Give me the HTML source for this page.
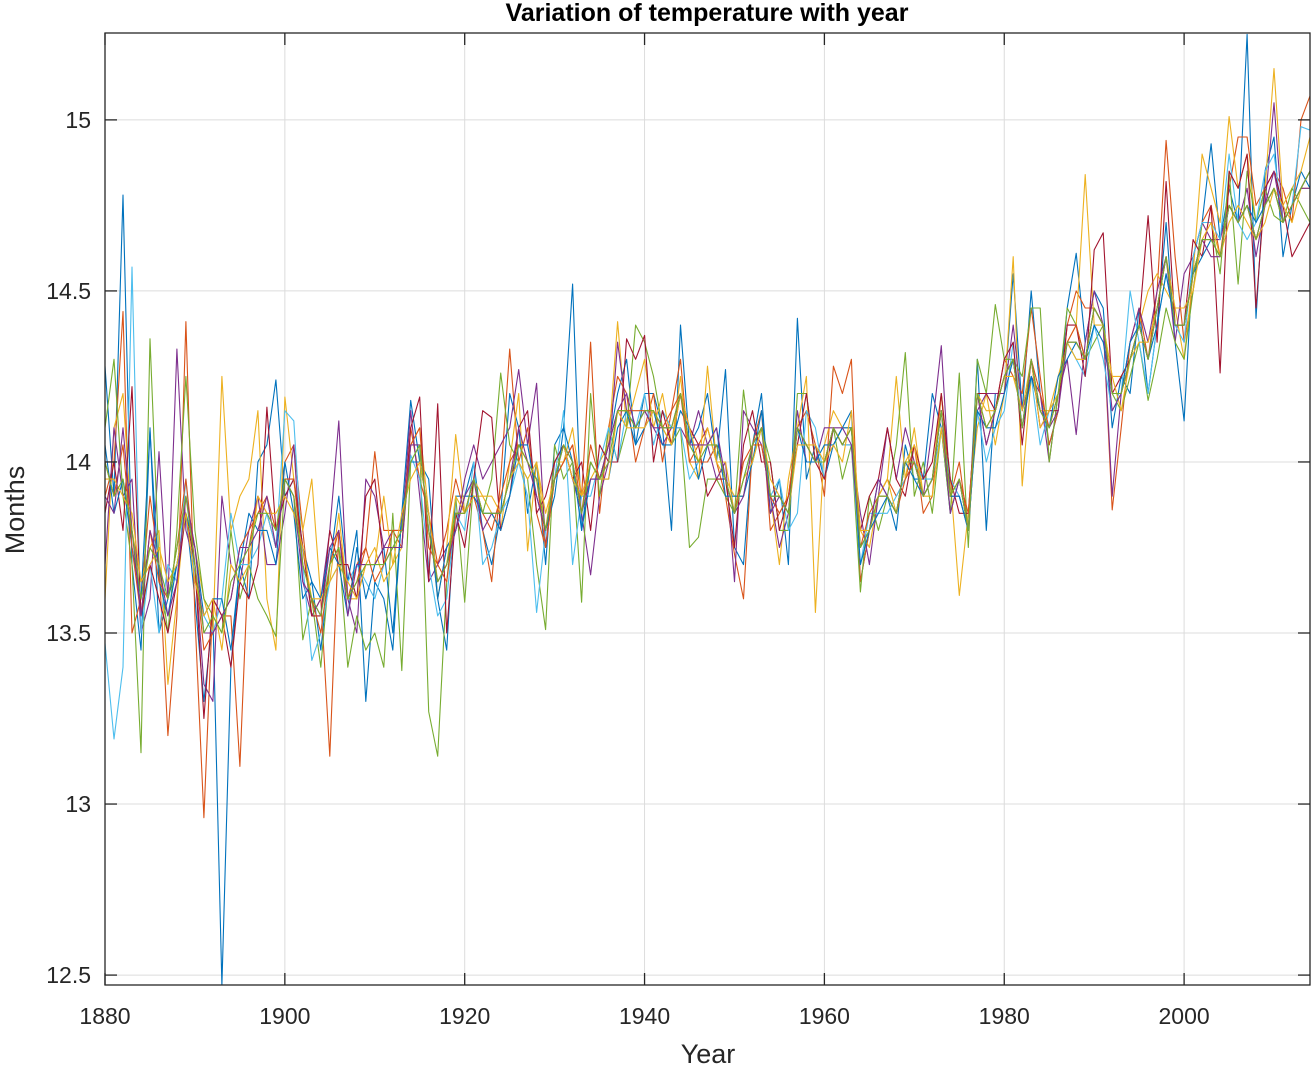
<!DOCTYPE html>
<html><head><meta charset="utf-8"><style>
html,body{margin:0;padding:0;background:#fff;}
svg{display:block;font-family:"Liberation Sans",Arial,sans-serif;}
</style></head><body>
<svg id="chart" width="1313" height="1066" viewBox="0 0 1313 1066" xmlns="http://www.w3.org/2000/svg">
<defs><clipPath id="clip"><rect x="105" y="33" width="1205" height="952"/></clipPath></defs>
<rect width="1313" height="1066" fill="#fff"/>
<g id="grid"></g>
<g id="series" clip-path="url(#clip)"></g>
<g id="axes"></g>
<text x="707" y="21" text-anchor="middle" font-size="25" font-weight="bold" fill="#000">Variation of temperature with year</text>
<text x="708" y="1063" text-anchor="middle" font-size="27" fill="#262626">Year</text>
<text transform="translate(24,510) rotate(-90)" text-anchor="middle" font-size="27" fill="#262626">Months</text>
</svg>
<script>
const startYear = 1880;
const xTicks = [1880,1900,1920,1940,1960,1980,2000];
const yTicks = [12.5,13,13.5,14,14.5,15];
const yTickLabels = ["12.5","13","13.5","14","14.5","15"];
const seriesColors = ["#0072BD","#D95319","#EDB120","#7E2F8E","#77AC30","#4DBEEE","#A2142F","#0072BD","#D95319","#EDB120","#7E2F8E","#77AC30"];
const m01=[14.28,13.9,14.78,13.7,13.45,14.1,13.5,13.6,13.7,13.85,13.6,13.3,13.55,12.47,13.4,13.7,13.6,14.0,14.05,14.24,13.9,13.95,13.75,13.65,13.45,13.7,13.9,13.65,13.8,13.3,13.65,13.6,13.45,13.85,14.18,14.0,13.95,13.6,13.45,13.9,13.9,14.0,13.8,13.7,13.85,14.2,14.1,13.85,14.0,13.7,14.05,14.1,14.52,13.8,14.0,13.95,14.05,14.2,14.3,14.05,14.2,14.2,14.1,13.8,14.4,14.05,14.1,14.2,14.0,14.27,13.75,13.7,14.05,14.2,13.85,13.95,13.7,14.42,13.95,14.05,13.95,14.05,14.1,14.15,13.65,13.8,13.95,13.9,13.8,14.05,13.95,13.95,14.2,14.1,13.85,13.95,13.8,14.3,13.8,14.2,14.2,14.55,14.15,14.5,14.2,14.05,14.15,14.45,14.61,14.35,14.5,14.45,14.1,14.25,14.2,14.45,14.2,14.4,14.7,14.35,14.12,14.6,14.7,14.93,14.65,14.8,14.7,15.25,14.42,14.85,14.95,14.6,14.75,14.85,14.8];
const m02=[13.9,14.0,14.44,13.5,13.6,13.9,13.7,13.2,13.55,14.41,13.55,12.96,13.6,13.55,13.55,13.11,13.75,13.9,13.85,13.75,14.0,14.05,13.8,13.55,13.6,13.14,13.8,13.6,13.7,13.75,14.03,13.8,13.8,13.75,14.1,13.95,13.85,13.7,13.8,13.95,13.85,13.9,13.8,13.65,13.95,14.33,14.0,14.1,13.85,13.75,13.95,14.0,14.05,13.9,14.35,13.85,14.1,14.25,14.2,14.0,14.1,14.2,14.0,14.15,14.3,14.0,14.05,14.1,14.0,13.9,13.73,13.6,14.05,14.15,13.8,13.85,13.9,14.1,14.15,14.05,13.9,14.28,14.2,14.3,13.65,13.8,13.9,13.95,13.9,13.95,14.05,13.85,13.9,14.2,13.9,14.0,13.8,14.2,14.05,14.15,14.3,14.25,14.2,14.45,14.25,14.05,14.15,14.4,14.5,14.45,14.45,14.4,13.86,14.1,14.35,14.45,14.3,14.5,14.94,14.6,14.35,14.5,14.7,14.75,14.6,14.8,14.95,14.95,14.75,14.8,14.85,14.8,14.7,15.0,15.07];
const m03=[13.6,14.1,14.2,13.8,13.65,13.75,13.8,13.35,13.6,13.9,13.75,13.6,13.5,14.25,13.8,13.9,13.95,14.15,13.6,13.45,14.19,13.95,13.8,13.95,13.6,13.65,13.85,13.6,13.6,13.7,13.7,13.9,13.7,13.75,14.05,14.1,13.85,13.6,13.75,14.08,13.85,13.95,13.9,13.85,13.8,14.0,14.2,13.74,14.0,13.8,14.0,14.0,14.1,13.9,13.95,14.0,14.05,14.41,14.1,14.2,14.3,14.1,14.2,14.05,14.25,14.0,13.95,14.28,14.0,13.95,13.9,13.9,14.05,14.1,13.9,13.7,13.95,14.1,14.25,13.56,14.05,14.15,14.1,14.1,13.8,13.75,13.9,13.95,14.25,13.95,14.1,13.9,13.95,14.2,13.95,13.61,13.85,14.1,14.2,14.05,14.2,14.6,13.93,14.25,14.15,14.15,14.25,14.35,14.4,14.84,14.4,14.4,14.25,14.25,14.3,14.4,14.5,14.55,14.5,14.45,14.3,14.55,14.9,14.8,14.7,15.01,14.8,14.9,14.7,14.8,15.15,14.75,14.8,14.85,14.95];
const m04=[13.7,14.1,13.9,13.95,13.5,13.6,14.03,13.6,14.33,13.8,13.7,13.35,13.3,13.9,13.7,13.65,13.8,13.9,13.7,13.7,13.85,14.05,13.65,13.55,13.6,13.8,14.12,13.6,13.5,13.95,13.9,13.75,13.8,13.8,14.15,13.9,13.65,13.7,13.75,13.8,13.95,14.05,13.95,14.0,14.05,14.1,14.27,14.05,14.23,13.75,14.0,14.05,13.95,13.85,13.67,13.9,14.0,14.35,14.15,14.1,14.15,14.1,14.05,14.1,14.1,14.05,14.15,14.05,13.95,14.0,13.65,14.15,14.1,14.05,13.9,13.75,13.85,14.15,14.0,14.0,14.1,14.1,14.05,14.05,13.85,13.7,13.9,14.1,13.95,14.1,14.0,13.9,14.1,14.34,13.9,13.9,13.8,14.15,14.2,14.2,14.2,14.4,14.15,14.25,14.2,14.0,14.2,14.3,14.08,14.35,14.5,14.4,13.9,14.2,14.35,14.45,14.35,14.5,14.6,14.35,14.55,14.6,14.7,14.65,14.65,14.75,14.7,14.8,14.6,14.75,15.05,14.7,14.75,14.8,14.85];
const m05=[14.1,14.3,13.9,13.7,13.15,14.36,13.7,13.5,13.8,14.25,13.8,13.6,13.55,13.5,13.8,13.6,13.7,13.6,13.55,13.49,13.95,13.9,13.48,13.6,13.4,13.7,13.75,13.4,13.55,13.45,13.5,13.4,13.85,13.39,14.0,14.05,13.27,13.14,13.65,13.9,13.59,13.95,13.85,13.95,14.26,14.05,14.0,13.95,13.7,13.51,14.05,13.95,14.0,13.59,14.2,13.9,14.1,14.0,14.1,14.4,14.35,14.25,14.1,14.05,14.1,13.75,13.78,13.95,13.95,13.9,13.85,14.21,14.0,14.1,14.0,13.8,13.8,14.2,14.2,14.0,14.0,14.1,13.95,14.05,13.62,13.9,13.8,13.9,14.05,14.32,13.9,14.0,13.85,14.1,13.85,14.26,13.75,14.3,14.2,14.46,14.3,14.3,14.25,14.45,14.45,14.0,14.2,14.45,14.4,14.3,14.35,14.4,14.2,14.15,14.25,14.35,14.18,14.3,14.45,14.35,14.3,14.5,14.7,14.7,14.55,14.85,14.52,14.85,14.7,14.8,14.72,14.7,14.8,14.75,14.7];
const m06=[13.47,13.19,13.4,14.57,13.5,13.7,13.5,13.7,13.65,13.95,13.65,13.55,13.5,13.6,13.85,13.7,13.7,13.75,13.85,13.75,14.15,14.12,13.7,13.42,13.5,13.65,13.7,13.65,13.7,13.65,13.6,13.7,13.75,13.8,14.02,13.95,13.7,13.55,13.6,13.85,13.8,14.0,13.7,13.75,13.85,13.9,14.0,13.9,13.56,13.8,13.95,14.15,13.7,13.9,13.9,14.0,14.1,14.0,14.15,14.1,14.2,14.05,14.15,14.1,14.1,13.95,14.0,14.0,14.05,13.95,13.85,13.95,14.05,14.1,13.9,13.95,13.8,13.85,14.15,14.1,13.95,14.1,14.05,14.05,13.7,13.85,13.85,13.85,13.9,13.95,14.0,13.95,13.95,14.1,13.95,13.9,13.8,14.15,14.0,14.1,14.15,14.35,14.1,14.25,14.05,14.15,14.2,14.35,14.3,14.25,14.4,14.3,14.15,14.2,14.5,14.35,14.2,14.4,14.55,14.4,14.35,14.6,14.7,14.7,14.65,14.9,14.7,14.65,14.7,14.85,14.9,14.7,14.75,14.98,14.97];
const m07=[13.85,14.0,13.8,14.22,13.55,13.7,13.6,13.5,13.65,13.85,13.7,13.25,13.6,13.55,13.4,13.65,13.6,13.7,14.16,13.8,13.9,13.95,13.75,13.55,13.55,13.8,13.7,13.7,13.6,13.9,13.95,13.7,13.75,13.75,14.1,14.19,13.65,14.17,13.5,13.85,13.75,13.95,14.15,14.13,13.8,13.9,14.1,14.15,13.85,13.9,14.0,14.05,13.95,14.0,13.8,14.05,14.0,14.0,14.36,14.3,14.37,14.0,14.15,14.05,14.2,14.1,14.05,13.9,13.95,13.95,13.75,14.05,14.15,14.0,14.0,13.8,13.9,14.05,14.2,14.0,13.95,14.1,14.05,14.1,13.8,13.9,13.95,14.1,13.95,13.9,14.05,13.95,14.0,14.2,13.95,13.85,13.85,14.2,14.2,14.15,14.3,14.35,14.05,14.3,14.1,14.15,14.15,14.4,14.4,14.25,14.62,14.67,14.2,14.25,14.3,14.4,14.72,14.35,14.82,14.4,14.4,14.65,14.6,14.75,14.26,14.85,14.8,14.9,14.45,14.8,14.85,14.75,14.6,14.65,14.7];
const m08=[14.05,13.85,13.95,13.75,13.6,14.09,13.65,13.55,13.7,13.85,13.75,13.55,13.6,13.6,13.45,13.7,13.85,13.8,13.8,13.7,14.0,13.85,13.6,13.65,13.6,13.75,13.7,13.55,13.75,13.6,13.7,13.75,13.5,13.85,14.0,14.0,13.85,13.6,13.75,13.8,13.9,13.9,13.85,13.85,13.8,13.9,14.05,14.05,13.9,13.8,13.9,14.1,14.0,13.8,13.95,13.95,13.95,14.1,14.15,14.05,14.1,14.15,14.05,14.05,14.15,14.1,13.95,14.05,14.1,13.9,13.9,13.9,14.0,14.15,13.9,13.9,13.85,14.1,14.0,14.0,14.05,14.05,14.1,14.1,13.7,13.8,13.85,13.9,13.85,14.0,13.95,13.9,13.95,14.15,13.9,13.9,13.8,14.15,14.1,14.1,14.2,14.3,14.1,14.25,14.15,14.1,14.25,14.3,14.35,14.3,14.4,14.35,14.2,14.2,14.35,14.4,14.3,14.4,14.55,14.4,14.4,14.55,14.6,14.65,14.6,14.75,14.7,14.75,14.7,14.75,14.8,14.7,14.75,14.8,14.85];
const m09=[14.0,13.9,14.05,13.75,13.55,13.8,13.65,13.6,13.75,13.95,13.7,13.45,13.5,13.55,13.6,13.75,13.8,13.85,13.9,13.8,13.95,13.95,13.7,13.6,13.5,13.7,13.8,13.6,13.65,13.75,13.65,13.7,13.8,13.8,14.05,14.1,13.75,13.7,13.65,13.85,13.85,13.95,13.85,13.8,13.9,14.0,14.05,14.0,13.95,13.75,13.95,14.0,14.05,13.85,14.05,13.95,14.05,14.15,14.15,14.15,14.15,14.15,14.1,14.15,14.2,14.0,14.0,14.0,14.05,13.95,13.85,14.0,14.05,14.05,13.9,13.85,13.9,14.1,14.05,14.0,14.0,14.1,14.05,14.1,13.75,13.85,13.9,13.9,13.85,13.95,14.0,13.9,13.95,14.15,13.9,13.95,13.85,14.2,14.1,14.15,14.25,14.3,14.1,14.3,14.2,14.1,14.2,14.35,14.4,14.3,14.45,14.4,14.2,14.2,14.3,14.4,14.3,14.45,14.6,14.4,14.4,14.55,14.65,14.65,14.6,14.75,14.7,14.75,14.65,14.75,14.8,14.7,14.75,14.8,14.85];
const m10=[13.95,13.95,13.9,13.85,13.65,13.7,13.75,13.65,13.7,13.85,13.65,13.55,13.6,13.45,13.7,13.65,13.7,13.9,13.85,13.85,13.9,13.85,13.75,13.6,13.6,13.65,13.7,13.65,13.6,13.7,13.75,13.65,13.7,13.85,13.95,14.0,13.85,13.65,13.7,13.9,13.85,13.9,13.9,13.9,13.85,13.95,14.0,13.95,14.0,13.85,13.95,14.05,13.95,13.9,14.0,13.95,13.95,14.15,14.1,14.1,14.1,14.15,14.1,14.05,14.2,14.1,14.0,14.1,14.0,14.0,13.85,13.95,14.0,14.1,13.95,13.9,13.85,14.05,14.05,14.05,14.0,14.05,14.0,14.15,13.8,13.8,13.9,13.95,13.85,14.0,14.05,13.9,13.9,14.1,13.9,13.95,13.8,14.2,14.15,14.15,14.25,14.25,14.15,14.3,14.1,14.15,14.2,14.35,14.3,14.3,14.45,14.4,14.25,14.15,14.3,14.35,14.35,14.45,14.6,14.45,14.45,14.5,14.65,14.7,14.6,14.7,14.75,14.7,14.65,14.7,14.8,14.75,14.7,14.8,14.8];
const m11=[13.9,13.85,14.1,13.8,13.55,13.8,13.7,13.55,13.65,13.9,13.75,13.5,13.5,13.55,13.6,13.75,13.75,13.8,13.9,13.75,13.95,13.9,13.65,13.6,13.55,13.75,13.8,13.55,13.7,13.7,13.7,13.75,13.75,13.75,14.05,14.05,13.8,13.65,13.7,13.8,13.9,13.95,13.8,13.85,13.85,13.95,14.1,14.0,13.9,13.8,13.95,14.05,14.0,13.85,13.95,13.95,14.05,14.15,14.2,14.1,14.15,14.1,14.1,14.1,14.2,14.05,14.05,14.05,14.1,13.95,13.85,13.9,14.05,14.1,13.85,13.9,13.85,14.1,14.05,14.0,14.0,14.1,14.1,14.05,13.75,13.8,13.95,13.9,13.85,14.0,14.0,13.9,13.95,14.15,13.85,13.95,13.8,14.2,14.05,14.15,14.25,14.3,14.1,14.3,14.15,14.1,14.15,14.35,14.35,14.3,14.45,14.4,14.15,14.2,14.3,14.4,14.3,14.45,14.6,14.4,14.4,14.55,14.65,14.6,14.6,14.75,14.7,14.75,14.65,14.75,14.85,14.7,14.75,14.8,14.8];
const m12=[14.0,13.9,13.95,13.8,13.6,13.75,13.7,13.6,13.75,13.9,13.7,13.5,13.55,13.5,13.65,13.7,13.75,13.85,13.85,13.8,13.95,13.9,13.7,13.6,13.55,13.7,13.75,13.6,13.65,13.7,13.7,13.7,13.75,13.8,14.0,14.05,13.8,13.65,13.7,13.85,13.85,13.95,13.85,13.85,13.85,13.95,14.05,14.0,13.95,13.8,13.95,14.05,14.0,13.85,14.0,13.95,14.0,14.15,14.15,14.1,14.15,14.15,14.1,14.1,14.2,14.05,14.0,14.05,14.05,13.95,13.85,13.95,14.05,14.1,13.9,13.9,13.85,14.1,14.05,14.0,14.0,14.1,14.05,14.1,13.75,13.8,13.9,13.9,13.85,14.0,14.0,13.9,13.95,14.15,13.9,13.95,13.8,14.2,14.1,14.15,14.25,14.3,14.1,14.3,14.15,14.1,14.2,14.35,14.35,14.3,14.45,14.4,14.2,14.2,14.3,14.4,14.3,14.45,14.6,14.4,14.4,14.55,14.65,14.65,14.6,14.75,14.7,14.75,14.65,14.75,14.8,14.7,14.75,14.8,14.85];
const allSeries=[m01,m02,m03,m04,m05,m06,m07,m08,m09,m10,m11,m12];
const seriesNames=["jan","feb","mar","apr","may","jun","jul","aug","sep","oct","nov","dec"];

const NS="http://www.w3.org/2000/svg";
const L=105,R=1310,T=33,B=985;
const xMin=1880,xMax=2014,yMin=12.471,yMax=15.254;
function xs(v){return L+(v-xMin)/(xMax-xMin)*(R-L);}
function ys(v){return B-(v-yMin)/(yMax-yMin)*(B-T);}
function mk(tag,attrs,parent){const e=document.createElementNS(NS,tag);for(const k in attrs)e.setAttribute(k,attrs[k]);parent.appendChild(e);return e;}
const grid=document.getElementById('grid'),axes=document.getElementById('axes'),ser=document.getElementById('series');
xTicks.forEach(t=>{
  const g=mk('line',{x1:xs(t),x2:xs(t),y1:T,y2:B,stroke:'#dcdcdc','stroke-width':1},grid);
  
  
  const tb=mk('line',{x1:xs(t),x2:xs(t),y1:B,y2:B-12,stroke:'#262626','stroke-width':1.3},axes);
  
  
  const tt=mk('line',{x1:xs(t),x2:xs(t),y1:T,y2:T+12,stroke:'#262626','stroke-width':1.3},axes);
  
  
  const lb=mk('text',{x:xs(t),y:1024,'text-anchor':'middle','font-size':23,fill:'#262626'},axes);
  lb.textContent=String(t);
  
  
});
yTicks.forEach((t,i)=>{
  const g=mk('line',{x1:L,x2:R,y1:ys(t),y2:ys(t),stroke:'#dcdcdc','stroke-width':1},grid);
  
  
  const tl=mk('line',{x1:L,x2:L+12,y1:ys(t),y2:ys(t),stroke:'#262626','stroke-width':1.3},axes);
  
  
  const tr=mk('line',{x1:R,x2:R-12,y1:ys(t),y2:ys(t),stroke:'#262626','stroke-width':1.3},axes);
  
  
  const lb=mk('text',{x:91,y:ys(t)+8,'text-anchor':'end','font-size':23,fill:'#262626'},axes);
  lb.textContent=yTickLabels[i];
  
  
});
const box=mk('rect',{x:L,y:T,width:R-L,height:B-T,fill:'none',stroke:'#262626','stroke-width':1.3},axes);


allSeries.forEach((arr,si)=>{
  const pts=arr.map((v,i)=>xs(startYear+i).toFixed(1)+','+ys(v).toFixed(1)).join(' ');
  const pl=mk('polyline',{points:pts,fill:'none',stroke:seriesColors[si],'stroke-width':1.1,'stroke-linejoin':'round'},ser);
  
  
});
</script>
</body></html>
